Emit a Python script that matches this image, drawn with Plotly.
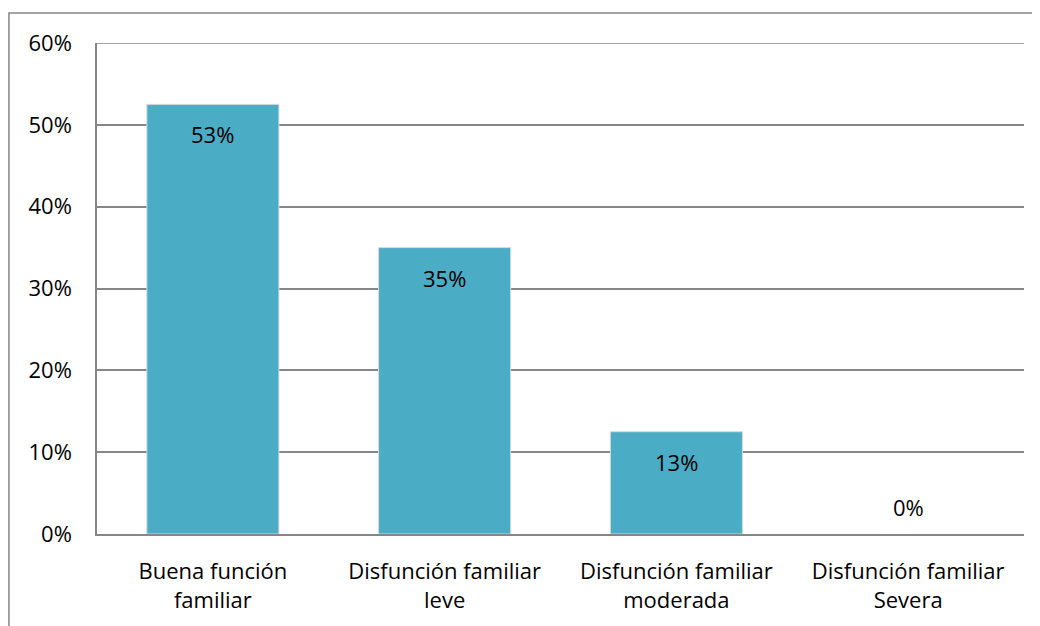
import plotly.graph_objects as go

categories = ["Buena función<br>familiar", "Disfunción familiar<br>leve",
              "Disfunción familiar<br>moderada", "Disfunción familiar<br>Severa"]
values = [0.525, 0.35, 0.125, 0.0]
labels = ["53%", "35%", "13%", "0%"]
tick_vals = [0, 0.1, 0.2, 0.3, 0.4, 0.5, 0.6]
tick_text = ["0%", "10%", "20%", "30%", "40%", "50%", "60%"]

FONT = "Open Sans"
FS = 22
fig = go.Figure()
fig.add_trace(go.Bar(
    x=categories, y=values,
    marker=dict(color="#4BACC6",
                line=dict(color="#D9D9D9", width=[1 if v > 0 else 0 for v in values])),
    width=0.57, hoverinfo="skip",
))

for c, v, t in zip(categories, values, labels):
    fig.add_annotation(x=c, y=v, text=t, showarrow=False,
                       yshift=-30 if v > 0 else 27,
                       font=dict(family=FONT, size=FS, color="#000000"))

fig.update_layout(
    width=1040, height=626,
    margin=dict(l=89, r=24, t=35, b=100),
    plot_bgcolor="white", paper_bgcolor="white",
    showlegend=False,
    font=dict(family=FONT, size=FS, color="#000000"),
    xaxis=dict(showline=True, linecolor="#868686", linewidth=1.5, ticks="",
               tickfont=dict(size=FS), mirror=False, ticklabelstandoff=17),
    yaxis=dict(range=[0, 0.6], tickvals=tick_vals, ticktext=tick_text,
               showgrid=True, gridcolor="#868686", gridwidth=1.5,
               showline=True, linecolor="#868686", linewidth=1.5,
               ticks="", ticklabelstandoff=19, zeroline=False,
               tickfont=dict(size=FS)),
    shapes=[dict(type="rect", xref="paper", yref="paper",
                 x0=-0.095, x1=1.1, y0=-0.3, y1=1.061,
                 line=dict(color="#868686", width=1.5), layer="below"),
            dict(type="line", xref="paper", yref="y",
                 x0=0, x1=1, y0=tick_vals[-1], y1=tick_vals[-1],
                 line=dict(color="#868686", width=1.5), layer="below")],
)
fig.write_html("out.html")
